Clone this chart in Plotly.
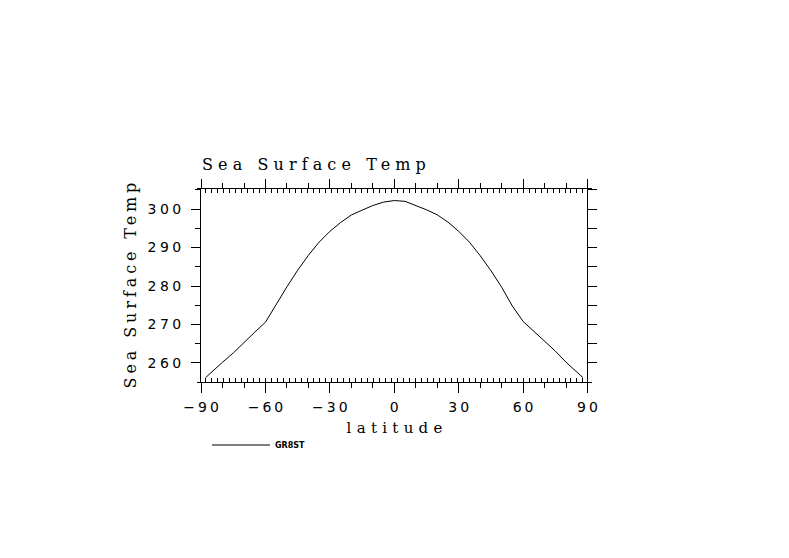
import plotly.graph_objects as go

# ---- data ----
latitude = [-87.9, -85, -80, -75, -70, -65, -60, -55, -50, -45, -40, -35, -30, -25,
            -20, -15, -10, -5, 0, 5, 10, 15, 20, 25, 30, 35, 40, 45, 50, 55, 60,
            65, 70, 75, 80, 85, 87.9]
sst = [256.2, 257.7, 260.2, 262.6, 265.4, 268.0, 270.6, 275.3, 279.8, 284.1, 288.0,
       291.4, 294.2, 296.5, 298.45, 299.7, 300.9, 301.8, 302.2, 302.0, 301.0, 299.8,
       298.5, 296.6, 294.2, 291.4, 287.9, 284.0, 279.7, 274.8, 270.8, 268.2, 265.6,
       263.1, 260.2, 257.6, 256.2]
series_name = "GR8ST"

x_tick_vals = [-90, -60, -30, 0, 30, 60, 90]
x_tick_labels = ["\u221290", "\u221260", "\u221230", "0", "30", "60", "90"]
x_mid_ticks = [-80, -70, -50, -40, -20, -10, 10, 20, 40, 50, 70, 80]
y_tick_vals = [260, 270, 280, 290, 300]
y_tick_labels = ["260", "270", "280", "290", "300"]
y_minor_ticks = [265, 275, 285, 295, 305]
y_right_ticks = [255, 260, 265, 270, 275, 280, 285, 290, 295, 300, 305]
# Gaussian (T42) grid latitudes, northern half; mirrored for the south
grid_north = [1.395, 4.199, 6.989, 9.779, 12.569, 15.359, 18.149, 20.939, 23.729,
              26.519, 29.309, 32.099, 34.889, 37.679, 40.469, 43.259, 46.049,
              48.839, 51.629, 54.419, 57.209, 59.999, 62.789, 65.578, 68.368,
              71.158, 73.948, 76.737, 79.526, 82.313, 85.097, 87.864]
grid_lats = [-g for g in reversed(grid_north)] + grid_north

title_text = "Sea Surface Temp"
x_title = "latitude"
y_title = "Sea Surface Temp"

# ---- styling ----
SERIF = "DejaVu Serif"
SANS = "DejaVu Sans"
# page body has an 8px margin, so the figure is 8px smaller than the window
W, H = 781, 550
ML, MR, MT, MB = 189, 197, 181, 176
XR = [-91.9, 92.1]
YR = [255.06, 305.2]
PW = W - ML - MR


def spaced(s, ls):
    if len(s) < 2:
        return s
    return "<span style='letter-spacing:%spx'>%s</span>%s" % (ls, s[:-1], s[-1])


p_left = (x_tick_vals[0] - XR[0]) / (XR[1] - XR[0])
p_right = (x_tick_vals[-1] - XR[0]) / (XR[1] - XR[0])

fig = go.Figure()
fig.add_trace(go.Scatter(x=latitude, y=sst, mode="lines",
                         name="<b>" + series_name + "</b>",
                         line=dict(color="black", width=1),
                         xaxis="x", yaxis="y"))
# empty traces so every decorative axis gets its subplot
for xa, ya in [("x2", "y"), ("x3", "y"), ("x4", "y"), ("x5", "y"), ("x5", "y2")]:
    fig.add_trace(go.Scatter(x=[], y=[], xaxis=xa, yaxis=ya, showlegend=False,
                             hoverinfo="skip"))

common_x = dict(range=XR, showgrid=False, zeroline=False, fixedrange=True)
tick_common = dict(tickwidth=1, tickcolor="black")

fig.update_layout(
    width=W, height=H, autosize=False,
    margin=dict(l=ML, r=MR, t=MT, b=MB, pad=0, autoexpand=False),
    paper_bgcolor="white", plot_bgcolor="rgba(0,0,0,0)",
    font=dict(family=SANS, color="black", size=14),
    showlegend=True,
    title=dict(text=spaced(title_text, 5.1), x=5 / PW, xref="paper",
               xanchor="left", y=1 - 162 / H, yref="container", yanchor="bottom",
               font=dict(family=SERIF, size=16, color="black")),
    xaxis=dict(common_x, domain=[0, 1], anchor="y", side="bottom",
               showline=True, linecolor="black", linewidth=1,
               tickmode="array", tickvals=x_tick_vals,
               ticktext=[spaced(t, 3) for t in x_tick_labels],
               ticks="outside", ticklen=10, **tick_common,
               ticklabelstandoff=2,
               tickfont=dict(family=SANS, size=14),
               minor=dict(tickmode="array", tickvals=grid_lats, ticks="inside",
                          ticklen=4, showgrid=False, **tick_common),
               title=dict(text=spaced(x_title, 5.3), standoff=8,
                          font=dict(family=SERIF, size=15))),
    xaxis3=dict(common_x, overlaying="x", anchor="y", side="bottom",
                showline=False, tickmode="array", tickvals=x_mid_ticks,
                ticks="outside", ticklen=5, **tick_common,
                showticklabels=False),
    xaxis2=dict(common_x, overlaying="x", anchor="y", side="top",
                showline=True, linecolor="black", linewidth=1,
                tickmode="array", tickvals=x_tick_vals,
                ticks="outside", ticklen=9, **tick_common,
                showticklabels=False,
                minor=dict(tickmode="array", tickvals=grid_lats, ticks="inside",
                           ticklen=4, showgrid=False, **tick_common)),
    xaxis4=dict(common_x, overlaying="x", anchor="y", side="top",
                showline=False, tickmode="array", tickvals=x_mid_ticks,
                ticks="outside", ticklen=5, **tick_common,
                showticklabels=False),
    xaxis5=dict(range=[x_tick_vals[0], x_tick_vals[-1]], domain=[p_left, p_right],
                anchor="y", visible=False, fixedrange=True),
    yaxis=dict(range=YR, domain=[0, 1], anchor="x5", side="left",
               showgrid=False, zeroline=False, fixedrange=True,
               showline=True, linecolor="black", linewidth=1,
               tickmode="array", tickvals=y_tick_vals,
               ticktext=[spaced(t, 3.5) for t in y_tick_labels],
               ticks="outside", ticklen=9, **tick_common,
               ticklabelstandoff=7,
               tickfont=dict(family=SANS, size=14),
               minor=dict(tickmode="array", tickvals=y_minor_ticks, ticks="outside",
                          ticklen=5, showgrid=False, **tick_common),
               title=dict(text=spaced(y_title, 3.9), standoff=6,
                          font=dict(family=SERIF, size=16))),
    yaxis2=dict(range=YR, overlaying="y", anchor="x5", side="right",
                showgrid=False, zeroline=False, fixedrange=True,
                showline=True, linecolor="black", linewidth=1,
                tickmode="array", tickvals=y_right_ticks,
                ticks="outside", ticklen=9, **tick_common,
                showticklabels=False),
    legend=dict(x=10 / PW, xanchor="left",
                y=(H - MB - 437) / (H - MT - MB), yanchor="middle",
                bgcolor="rgba(0,0,0,0)", borderwidth=0, itemwidth=58,
                font=dict(family=SANS, size=8, color="black")),
)

fig.write_html("out.html")
